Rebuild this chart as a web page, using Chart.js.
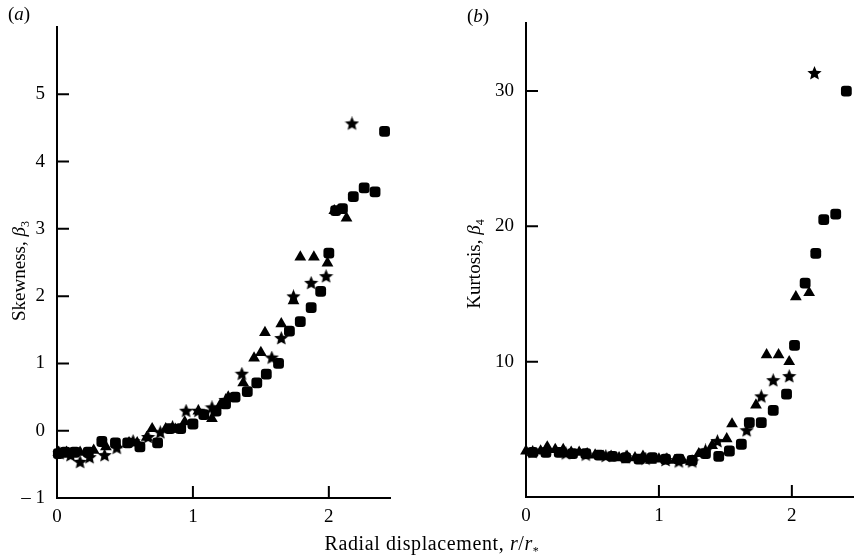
<!DOCTYPE html>
<html>
<head>
<meta charset="utf-8">
<script src="https://cdn.jsdelivr.net/npm/chart.js@4.4.0/dist/chart.umd.min.js"></script>
<style>
  body { margin: 0; background: #fff; }
  #wrap { position: relative; width: 860px; height: 558px; overflow: hidden;
          font-family: "Liberation Serif", "Times New Roman", serif; color: #000; }
  canvas { position: absolute; top: 0; }
  .lbl { position: absolute; white-space: nowrap; font-size: 19px; line-height: 1; }
  .rot { transform: translate(-50%, -50%) rotate(-90deg); }
  sub { font-size: 12px; }
</style>
</head>
<body>
<div id="wrap">
  <canvas id="skew" width="430" height="558" style="left:0"></canvas>
  <canvas id="kurt" width="430" height="558" style="left:430px"></canvas>
  <div class="lbl" style="left:8px;top:4px">(<i>a</i>)</div>
  <div class="lbl" style="left:467px;top:6px">(<i>b</i>)</div>
  <div class="lbl rot" style="left:20px;top:271px">Skewness, <i>β</i><sub>3</sub></div>
  <div class="lbl rot" style="left:475px;top:264px">Kurtosis, <i>β</i><sub>4</sub></div>
  <div class="lbl" style="left:432px;top:545px;transform:translate(-50%,-50%);letter-spacing:0.6px;font-size:20px">Radial displacement, <i>r</i>/<i>r</i><sub>*</sub></div>
</div>

<script>
// radial positions r/r* and values
// (a) skewness
var skewSquareR = [0.01, 0.06, 0.13, 0.23, 0.33, 0.43, 0.52, 0.61, 0.74, 0.83, 0.91, 1.00, 1.08, 1.17, 1.24, 1.31, 1.40, 1.47, 1.54, 1.63, 1.71, 1.79, 1.87, 1.94, 2.00, 2.05, 2.10, 2.18, 2.26, 2.34, 2.41];
var skewSquare  = [-0.34, -0.32, -0.32, -0.32, -0.16, -0.18, -0.18, -0.24, -0.18, 0.03, 0.03, 0.10, 0.24, 0.29, 0.40, 0.50, 0.58, 0.71, 0.84, 1.00, 1.48, 1.62, 1.83, 2.07, 2.64, 3.27, 3.30, 3.48, 3.61, 3.55, 4.45];

var skewTriR = [0.01, 0.07, 0.17, 0.27, 0.36, 0.44, 0.53, 0.59, 0.66, 0.70, 0.80, 0.87, 0.94, 1.04, 1.14, 1.20, 1.26, 1.37, 1.45, 1.50, 1.53, 1.65, 1.74, 1.79, 1.89, 1.99, 2.04, 2.13];
var skewTri  = [-0.32, -0.32, -0.32, -0.29, -0.24, -0.21, -0.18, -0.18, -0.10, 0.03, 0.03, 0.02, 0.13, 0.29, 0.18, 0.38, 0.50, 0.71, 1.08, 1.16, 1.46, 1.59, 1.93, 2.58, 2.58, 2.49, 3.27, 3.16];

var skewStarR = [0.02, 0.10, 0.17, 0.24, 0.35, 0.44, 0.56, 0.67, 0.76, 0.85, 0.95, 1.04, 1.14, 1.24, 1.36, 1.58, 1.65, 1.74, 1.87, 1.98, 2.17];
var skewStar  = [-0.34, -0.37, -0.47, -0.40, -0.37, -0.26, -0.16, -0.10, -0.03, 0.05, 0.29, 0.29, 0.34, 0.45, 0.84, 1.08, 1.37, 1.99, 2.19, 2.29, 4.56];

// (b) kurtosis
var kurtSquareR = [0.05, 0.15, 0.25, 0.35, 0.45, 0.55, 0.65, 0.75, 0.85, 0.95, 1.05, 1.15, 1.25, 1.35, 1.45, 1.53, 1.62, 1.68, 1.77, 1.86, 1.96, 2.02, 2.10, 2.18, 2.24, 2.33, 2.41];
var kurtSquare  = [3.3, 3.3, 3.3, 3.2, 3.2, 3.1, 3.0, 2.9, 2.8, 2.9, 2.8, 2.8, 2.7, 3.2, 3.0, 3.4, 3.9, 5.5, 5.5, 6.4, 7.6, 11.2, 15.8, 18.0, 20.5, 20.9, 30.0];

var kurtTriR = [0.00, 0.05, 0.11, 0.16, 0.22, 0.28, 0.34, 0.40, 0.46, 0.52, 0.58, 0.64, 0.70, 0.76, 0.82, 0.88, 0.94, 1.00, 1.06, 1.12, 1.18, 1.24, 1.30, 1.40, 1.51, 1.55, 1.73, 1.81, 1.90, 1.98, 2.03, 2.13];
var kurtTri  = [3.4, 3.3, 3.4, 3.7, 3.5, 3.5, 3.3, 3.3, 3.2, 3.1, 3.0, 3.0, 2.9, 3.0, 2.9, 3.0, 2.7, 2.8, 2.8, 2.7, 2.7, 2.6, 3.2, 3.8, 4.3, 5.4, 6.8, 10.5, 10.5, 10.0, 14.8, 15.1];

var kurtStarR = [0.05, 0.15, 0.30, 0.45, 0.60, 0.75, 0.90, 1.05, 1.15, 1.25, 1.35, 1.44, 1.66, 1.77, 1.86, 1.98, 2.17];
var kurtStar  = [3.3, 3.4, 3.2, 3.1, 3.0, 2.9, 2.8, 2.7, 2.6, 2.6, 3.4, 4.1, 4.9, 7.4, 8.6, 8.9, 31.3];

// tick labels
var rTicks = [0, 1, 2];
var skewTicks = [-1, 0, 1, 2, 3, 4, 5];
var kurtTicks = [10, 20, 30];

var FONT = { family: '"Liberation Serif", "Times New Roman", serif', size: 19 };

function pts(xs, ys) {
  return xs.map(function (x, i) { return { x: x, y: ys[i] }; });
}

// filled five-point star for the third symbol
function starImage(size) {
  var c = document.createElement('canvas');
  c.width = size; c.height = size;
  var g = c.getContext('2d');
  var R = size / 2, r = R * 0.45;
  g.beginPath();
  for (var i = 0; i < 10; i++) {
    var a = -Math.PI / 2 + i * Math.PI / 5;
    var rr = i % 2 ? r : R;
    g.lineTo(R + rr * Math.cos(a), R + rr * Math.sin(a));
  }
  g.closePath();
  g.fillStyle = '#000';
  g.fill();
  return c;
}
var star = starImage(15);

// tick marks pointing into the plot, as in the figure
function innerTicks(xMarks, yMarks, len) {
  return {
    id: 'innerTicks',
    afterDraw: function (chart) {
      var ctx = chart.ctx, a = chart.chartArea;
      var xs = chart.scales.x, ys = chart.scales.y;
      ctx.save();
      ctx.strokeStyle = '#000';
      ctx.lineWidth = 2;
      ctx.beginPath();
      xMarks.forEach(function (v) {
        var p = xs.getPixelForValue(v);
        ctx.moveTo(p, a.bottom); ctx.lineTo(p, a.bottom - len);
      });
      yMarks.forEach(function (v) {
        var p = ys.getPixelForValue(v);
        ctx.moveTo(a.left, p); ctx.lineTo(a.left + len, p);
      });
      ctx.stroke();
      ctx.restore();
    }
  };
}

function makeChart(id, sq, tri, st, cfg) {
  var base = { backgroundColor: '#000', borderWidth: 0, clip: false };
  return new Chart(document.getElementById(id), {
    type: 'scatter',
    data: {
      datasets: [
        Object.assign({ data: sq, pointStyle: 'rectRounded', pointRadius: 6.3 }, base),
        Object.assign({ data: tri, pointStyle: 'triangle', pointRadius: 6.8 }, base),
        Object.assign({ data: st, pointStyle: star, pointRadius: 7 }, base)
      ]
    },
    options: {
      responsive: false,
      animation: false,
      layout: { padding: { left: 0, right: cfg.padRight, top: cfg.padTop, bottom: 0 } },
      plugins: {
        legend: { display: false },
        tooltip: { enabled: false }
      },
      scales: {
        x: {
          type: 'linear', min: 0, max: cfg.xMax,
          grid: { display: false, drawTicks: false },
          border: { display: true, color: '#000', width: 2 },
          afterBuildTicks: function (s) { s.ticks = rTicks.map(function (v) { return { value: v }; }); },
          afterFit: function (s) { s.height = cfg.xHeight; },
          ticks: { color: '#000', font: FONT, padding: 8, maxRotation: 0 }
        },
        y: {
          type: 'linear', min: cfg.yMin, max: cfg.yMax,
          grid: { display: false, drawTicks: false },
          border: { display: true, color: '#000', width: 2 },
          afterBuildTicks: function (s) { s.ticks = cfg.yTicks.map(function (v) { return { value: v }; }); },
          afterFit: function (s) { s.width = cfg.yWidth; },
          ticks: {
            color: '#000', font: FONT, padding: 12,
            callback: function (v) { return v < 0 ? '\u2013 ' + Math.abs(v) : String(v); }
          }
        }
      }
    },
    plugins: [innerTicks([1, 2], cfg.marks, 12)]
  });
}

makeChart('skew', pts(skewSquareR, skewSquare), pts(skewTriR, skewTri), pts(skewStarR, skewStar), {
  xMax: 2.45, yMin: -1, yMax: 6, yTicks: skewTicks, marks: [0, 1, 2, 3, 4, 5],
  padRight: 40, padTop: 27, xHeight: 60, yWidth: 57
});

makeChart('kurt', pts(kurtSquareR, kurtSquare), pts(kurtTriR, kurtTri), pts(kurtStarR, kurtStar), {
  xMax: 2.46, yMin: 0, yMax: 35, yTicks: kurtTicks, marks: [10, 20, 30],
  padRight: 0, padTop: 20, xHeight: 61, yWidth: 96
});
</script>
</body>
</html>
